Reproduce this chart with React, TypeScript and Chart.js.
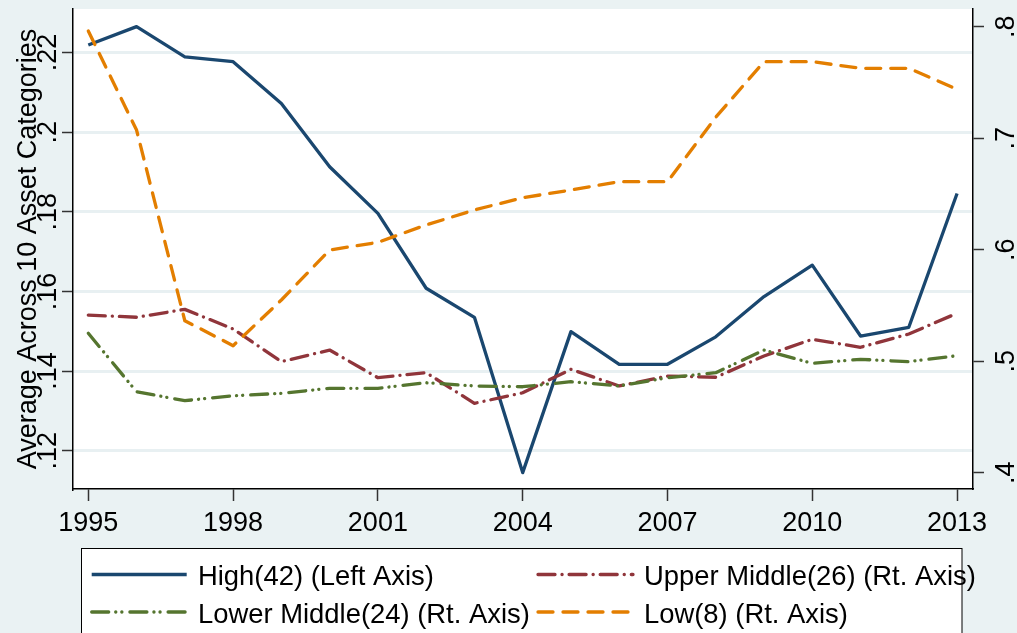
import React, { useEffect, useRef } from 'react';
import { Chart, registerables } from 'chart.js';

Chart.register(...registerables);

// ---------- data ----------
const years = [1995, 1996, 1997, 1998, 1999, 2000, 2001, 2002, 2003, 2004, 2005, 2006, 2007, 2008, 2009, 2010, 2011, 2012, 2013];
const highValues = [0.2219, 0.2265, 0.2189, 0.2177, 0.2072, 0.1913, 0.1796, 0.1608, 0.1535, 0.1145, 0.1499, 0.1417, 0.1417, 0.1486, 0.1587, 0.1666, 0.1488, 0.1510, 0.1846];
const upperMiddleValues = [0.5414, 0.5394, 0.5465, 0.5289, 0.4996, 0.5100, 0.4852, 0.4897, 0.4622, 0.4717, 0.4927, 0.4778, 0.4867, 0.4856, 0.5047, 0.5196, 0.5125, 0.5244, 0.5430];
const lowerMiddleValues = [0.5250, 0.4726, 0.4646, 0.4690, 0.4712, 0.4757, 0.4757, 0.4807, 0.4778, 0.4771, 0.4816, 0.4778, 0.4852, 0.4897, 0.5100, 0.4981, 0.5017, 0.4996, 0.5049];
const lowValues = [0.7961, 0.7073, 0.5363, 0.5139, 0.5549, 0.5997, 0.6066, 0.6222, 0.6356, 0.6466, 0.6535, 0.6610, 0.6610, 0.7188, 0.7686, 0.7686, 0.7627, 0.7627, 0.7438];
const seriesLabels = ['High(42) (Left Axis)', 'Upper Middle(26) (Rt. Axis)', 'Lower Middle(24) (Rt. Axis)', 'Low(8) (Rt. Axis)'];
const xTicks = [1995, 1998, 2001, 2004, 2007, 2010, 2013];
const leftTicks = [0.12, 0.14, 0.16, 0.18, 0.2, 0.22];
const rightTicks = [0.4, 0.5, 0.6, 0.7, 0.8];
const yTitle = 'Average Across 10 Asset Categories';

// ---------- style ----------
const FONT = '"Liberation Sans", Arial, Helvetica, sans-serif';
const FS = 27;
const BG = 'rgb(234,242,243)';
const GRID = 'rgb(232,240,242)';
const NAVY = 'rgb(26,71,111)';
const MAROON = 'rgb(144,53,59)';
const GREEN = 'rgb(85,117,47)';
const ORANGE = 'rgb(227,126,0)';

const X_MIN = 1994.683;
const X_MAX = 2013.33;
const Y_MIN = 0.11038;
const Y_MAX = 0.23093;
const Y1_MIN = 0.38538;
const Y1_MAX = 0.81587;

const fmt = (v: number) => String(Math.round(v * 1000) / 1000).replace(/^0/, '');
const pts = (vals: number[]) => years.map((x, i) => ({ x, y: vals[i] }));

const stataPlugin = {
  id: 'stataLook',
  beforeDraw(chart: any) {
    const { ctx, chartArea: a, width, height } = chart;
    ctx.save();
    ctx.fillStyle = BG;
    ctx.fillRect(0, 0, width, height);
    ctx.fillStyle = '#ffffff';
    ctx.fillRect(a.left, a.top, a.right - a.left, a.bottom - a.top);
    ctx.restore();
  },
  afterDraw(chart: any) {
    const { ctx, chartArea: a } = chart;
    const yl = chart.scales.y;
    const yr = chart.scales.y1;
    ctx.save();
    ctx.font = `${FS}px ${FONT}`;
    ctx.fillStyle = '#000';
    ctx.textAlign = 'center';
    ctx.textBaseline = 'alphabetic';
    const rotText = (txt: string, x: number, y: number) => {
      ctx.save();
      ctx.translate(x, y);
      ctx.rotate(-Math.PI / 2);
      ctx.fillText(txt, 0, 0);
      ctx.restore();
    };
    yl.ticks.forEach((t: any) => rotText(fmt(t.value), a.left - 17.5, yl.getPixelForValue(t.value)));
    yr.ticks.forEach((t: any) => rotText(fmt(t.value), a.right + 41, yr.getPixelForValue(t.value)));
    rotText(yTitle, a.left - 37, (a.top + a.bottom) / 2);

    // legend
    const boxL = 81.5, boxT = 548.5, boxR = 962;
    ctx.fillStyle = '#fff';
    ctx.fillRect(boxL, boxT, boxR - boxL, 200);
    ctx.strokeStyle = '#000';
    ctx.lineWidth = 1;
    ctx.strokeRect(boxL, boxT, boxR - boxL, 200);
    const colSample = [91.7, 538];
    const colText = [198, 644];
    const rowY = [574.5, 612];
    const rowBase = [585, 622.5];
    ctx.font = `${FS + 0.4}px ${FONT}`;
    chart.data.datasets.forEach((ds: any, i: number) => {
      const c = i % 2, r = Math.floor(i / 2);
      ctx.save();
      ctx.strokeStyle = ds.borderColor;
      ctx.lineWidth = ds.borderWidth;
      ctx.lineCap = ds.borderCapStyle || 'butt';
      ctx.setLineDash(ds.borderDash || []);
      ctx.beginPath();
      ctx.moveTo(colSample[c], rowY[r]);
      ctx.lineTo(colSample[c] + 95, rowY[r]);
      ctx.stroke();
      ctx.restore();
      ctx.fillStyle = '#000';
      ctx.textAlign = 'left';
      ctx.fillText(ds.label, colText[c], rowBase[r]);
    });
    ctx.restore();
  },
};

export default function App() {
  const ref = useRef<HTMLCanvasElement | null>(null);
  useEffect(() => {
    if (!ref.current) return;
    const chart = new Chart(ref.current, {
      type: 'line',
      data: {
        datasets: [
          { label: seriesLabels[0], data: pts(highValues), yAxisID: 'y', borderColor: NAVY, borderWidth: 3.3, pointRadius: 0, borderJoinStyle: 'round', order: 4 },
          { label: seriesLabels[1], data: pts(upperMiddleValues), yAxisID: 'y1', borderColor: MAROON, borderWidth: 3.3, pointRadius: 0, borderDash: [17, 7, 0.1, 7], borderCapStyle: 'round', borderJoinStyle: 'round', order: 3 },
          { label: seriesLabels[2], data: pts(lowerMiddleValues), yAxisID: 'y1', borderColor: GREEN, borderWidth: 3.3, pointRadius: 0, borderDash: [17, 7, 0.1, 6, 0.1, 8], borderCapStyle: 'round', borderJoinStyle: 'round', order: 2 },
          { label: seriesLabels[3], data: pts(lowValues), yAxisID: 'y1', borderColor: ORANGE, borderWidth: 3.3, pointRadius: 0, borderDash: [15, 10], borderCapStyle: 'round', borderJoinStyle: 'round', order: 1 },
        ],
      },
      options: {
        animation: false,
        responsive: false,
        events: [],
        layout: { padding: { top: 9, left: 0, right: 0, bottom: 0 } },
        plugins: { legend: { display: false }, tooltip: { enabled: false }, title: { display: false } },
        scales: {
          x: {
            type: 'linear',
            position: 'bottom',
            min: X_MIN,
            max: X_MAX,
            afterBuildTicks: (s: any) => { s.ticks = xTicks.map((v) => ({ value: v })); },
            afterFit: (s: any) => { s.height = 144; },
            ticks: { callback: (v: any) => String(v), font: { family: FONT, size: FS }, color: '#000', padding: 6, maxRotation: 0, minRotation: 0, autoSkip: false },
            grid: { display: true, drawOnChartArea: false, drawTicks: true, tickLength: 12, tickColor: '#333', tickWidth: 1.5 },
            border: { display: true, color: '#000', width: 1.5 },
          },
          y: {
            type: 'linear',
            position: 'left',
            min: Y_MIN,
            max: Y_MAX,
            afterBuildTicks: (s: any) => { s.ticks = leftTicks.map((v) => ({ value: v })); },
            afterFit: (s: any) => { s.width = 73; },
            ticks: { display: false },
            grid: { display: true, drawOnChartArea: true, color: GRID, lineWidth: 3, drawTicks: true, tickLength: 11, tickColor: '#333', tickWidth: 1.5 },
            border: { display: true, color: '#000', width: 1.5 },
          },
          y1: {
            type: 'linear',
            position: 'right',
            min: Y1_MIN,
            max: Y1_MAX,
            afterBuildTicks: (s: any) => { s.ticks = rightTicks.map((v) => ({ value: v })); },
            afterFit: (s: any) => { s.width = 44; },
            ticks: { display: false },
            grid: { display: true, drawOnChartArea: false, drawTicks: true, tickLength: 11, tickColor: '#333', tickWidth: 1.5 },
            border: { display: true, color: '#000', width: 1.5 },
          },
        },
      } as any,
      plugins: [stataPlugin],
    });
    return () => chart.destroy();
  }, []);
  return (
    <div style={{ position: 'fixed', left: 0, top: 0, width: 1017, height: 633, overflow: 'hidden' }}>
      <canvas ref={ref} width={1017} height={633} style={{ display: 'block', width: 1017, height: 633 }} />
    </div>
  );
}
